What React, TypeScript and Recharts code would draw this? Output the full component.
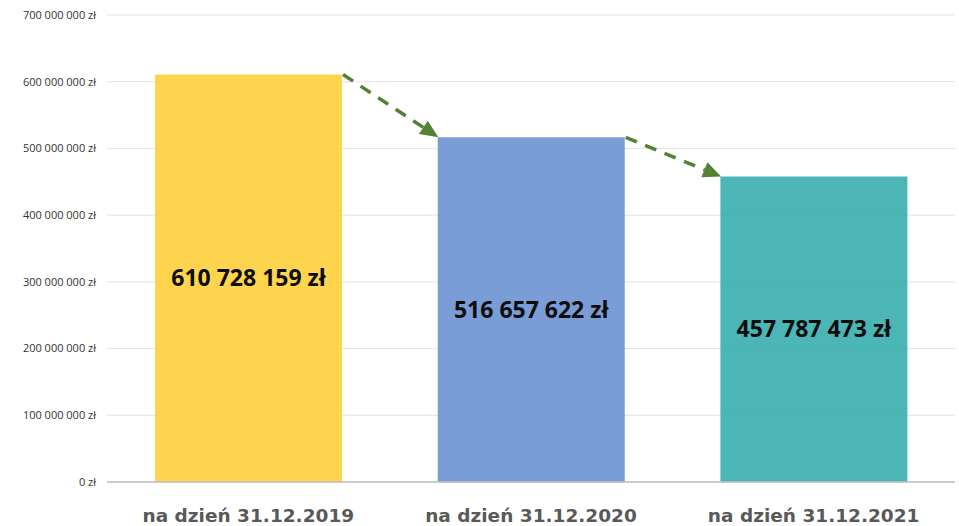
import { BarChart, Bar, XAxis, YAxis, CartesianGrid, Cell, LabelList } from "recharts";

const categories = ["na dzień 31.12.2019", "na dzień 31.12.2020", "na dzień 31.12.2021"];
const values = [610728159, 516657622, 457787473];
const barColors = ["#FFD03C", "#6C92D3", "#38ADAD"];
const yTicks = [0, 100000000, 200000000, 300000000, 400000000, 500000000, 600000000, 700000000];

const data = categories.map((name, i) => ({ name, value: values[i] }));

const GAP = 0.17;

const fmt = (v: number) => String(v).replace(/\B(?=(\d{3})+(?!\d))/g, " ") + " zł";

// dashed arrow from the top-right corner of a bar to the top-left corner of the next one
const TrendArrow = (props: any) => {
  const { x, y, width, height, index } = props;
  if (index == null || index >= values.length - 1) return null;
  const step = width / (1 - 2 * GAP);
  const base = y + height;
  const nx = x + step;
  const ny = base - values[index + 1] * (height / values[index]);
  const sx = x + width + 1;
  const sy = y;
  const dx = nx - sx;
  const dy = ny - sy;
  const len = Math.sqrt(dx * dx + dy * dy);
  const ux = dx / len;
  const uy = dy / len;
  const hl = 18;
  const hw = 8;
  const bx = nx - ux * hl;
  const by = ny - uy * hl;
  return (
    <g>
      <line x1={sx} y1={sy} x2={bx} y2={by} stroke="#548235" strokeWidth={3.5} strokeDasharray="12 9" />
      <polygon
        points={`${nx},${ny} ${bx - uy * hw},${by + ux * hw} ${bx + uy * hw},${by - ux * hw}`}
        fill="#548235"
      />
    </g>
  );
};

const CategoryTick = (props: any) => {
  const { x, y, payload } = props;
  return (
    <text x={x} y={y + 32} textAnchor="middle" fill="#595959" fontFamily="'DejaVu Sans'" fontWeight="bold" fontSize={18.5}>
      {payload.value}
    </text>
  );
};

export default function App() {
  return (
    <div style={{ position: "absolute", left: 0, top: 0, background: "#fff" }}>
      <BarChart width={959} height={526} data={data} margin={{ top: 15, right: 4, left: 0, bottom: 0 }} barCategoryGap={`${GAP * 100}%`}>
        <CartesianGrid vertical={false} stroke="#E2E2E2" />
        <XAxis
          dataKey="name"
          height={44}
          tickLine={false}
          axisLine={{ stroke: "#BFBFBF", strokeWidth: 1.5 }}
          tick={<CategoryTick />}
          interval={0}
        />
        <YAxis
          width={107}
          domain={[0, 700000000]}
          ticks={yTicks}
          axisLine={false}
          tickLine={false}
          tickSize={0}
          tickMargin={11}
          tickFormatter={fmt}
          tick={{ fill: "#333333", fontSize: 11, fontFamily: "'Open Sans'" }}
        />
        <Bar dataKey="value" isAnimationActive={false} fillOpacity={0.9}>
          {data.map((d, i) => (
            <Cell key={d.name} fill={barColors[i]} />
          ))}
          <LabelList
            dataKey="value"
            position="center"
            formatter={(v: any) => fmt(Number(v))}
            fill="#0D0D0D"
            fontSize={23}
            fontWeight="bold"
            fontFamily="'Open Sans'"
          />
          <LabelList dataKey="value" content={<TrendArrow />} />
        </Bar>
      </BarChart>
    </div>
  );
}
